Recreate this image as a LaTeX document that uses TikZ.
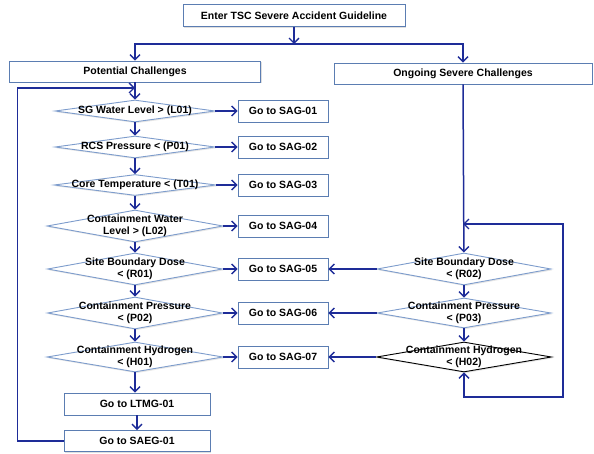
\documentclass[tikz,border=0pt]{standalone}
\usepackage{fontspec}
\setmainfont{Liberation Sans}
\usetikzlibrary{shapes.geometric,arrows.meta,shadows}
\definecolor{BoxLine}{HTML}{5B7DB2}
\definecolor{DiaLine}{HTML}{7D9CCC}
\definecolor{Flow}{HTML}{1E2C98}
\begin{document}
\begin{tikzpicture}[x=1pt,y=-1pt,every node/.style={align=center,font=\fontsize{10.5}{12}\selectfont\bfseries},
  box/.style={draw=BoxLine,line width=.9pt,fill=white,inner sep=0pt,minimum height=22pt,drop shadow={opacity=.25,shadow xshift=1.3pt,shadow yshift=-1.3pt}},
  dia/.style={diamond,draw=DiaLine,line width=.9pt,fill=white,inner sep=0pt,drop shadow={opacity=.2,shadow xshift=1.3pt,shadow yshift=-1.3pt}},
  lbl/.style={inner sep=0pt},
  tip/.style={Straight Barb[length=5pt,width=10pt,line width=1.4pt]},
  arr/.style={-{Straight Barb[length=5pt,width=10pt,line width=1.4pt]},line width=1.5pt,Flow}]
\useasboundingbox (0,0) rectangle (594,454);
% top of the guideline
\node[box,minimum width=222pt] (enter) at (294,15.5) {Enter TSC Severe Accident Guideline};
\node[box,minimum width=251pt,minimum height=21pt] (pot) at (135,71.5) {Potential Challenges};
\node[box,minimum width=258pt,minimum height=21pt] (ong) at (463,73.5) {Ongoing Severe Challenges};
\coordinate (split) at (294,44);
% left column
\node[dia,minimum width=160pt,minimum height=22pt] (d1) at (135,111) {};
\node[lbl] (t1) at (d1) {SG Water Level > (L01)};
\node[dia,minimum width=160pt,minimum height=22pt] (d2) at (135,147) {};
\node[lbl] (t2) at (d2) {RCS Pressure < (P01)};
\node[dia,minimum width=162pt,minimum height=21pt] (d3) at (135,185) {};
\node[lbl] (t3) at (d3) {Core Temperature < (T01)};
\node[dia,minimum width=176pt,minimum height=32pt] (d4) at (135,226) {};
\node[lbl] (t4) at (d4) {Containment Water\\Level > (L02)};
\node[dia,minimum width=175pt,minimum height=32pt] (d5) at (135,269) {};
\node[lbl] (t5) at (d5) {Site Boundary Dose\\< (R01)};
\node[dia,minimum width=175pt,minimum height=32pt] (d6) at (135,313) {};
\node[lbl] (t6) at (d6) {Containment Pressure\\< (P02)};
\node[dia,minimum width=176pt,minimum height=30pt] (d7) at (135,357) {};
\node[lbl] (t7) at (d7) {Containment Hydrogen\\< (H01)};
\node[box,minimum width=146pt] (ltmg) at (137,404) {Go to LTMG-01};
\node[box,minimum width=146pt,minimum height=21pt] (saeg) at (137,441) {Go to SAEG-01};
% SAG boxes
\node[box,minimum width=90pt] (s1) at (283,111) {Go to SAG-01};
\node[box,minimum width=90pt] (s2) at (283,147) {Go to SAG-02};
\node[box,minimum width=90pt] (s3) at (283,185) {Go to SAG-03};
\node[box,minimum width=90pt] (s4) at (283,226) {Go to SAG-04};
\node[box,minimum width=90pt] (s5) at (283,269) {Go to SAG-05};
\node[box,minimum width=90pt] (s6) at (283,313) {Go to SAG-06};
\node[box,minimum width=90pt] (s7) at (283,357) {Go to SAG-07};
% right column
\node[dia,minimum width=174pt,minimum height=32pt] (r1) at (464,269) {};
\node[lbl] (u1) at (r1) {Site Boundary Dose\\< (R02)};
\node[dia,minimum width=174pt,minimum height=30pt] (r2) at (464,313) {};
\node[lbl] (u2) at (r2) {Containment Pressure\\< (P03)};
\node[dia,draw=black,minimum width=175pt,minimum height=30pt] (r3) at (464,357) {};
\node[lbl] (u3) at (r3) {Containment Hydrogen\\< (H02)};
\coordinate (lin) at (135,88);
\coordinate (rin) at (463,224);
\coordinate (rloop) at (563,397);
% connectors
\draw[arr] (enter) -- (split);
\draw[arr] (split) -| (pot);
\draw[arr] (split) -| (ong);
\draw[arr] (pot) -- (d1);
\draw[arr] (d1) -- (d2);
\draw[arr] (d2) -- (d3);
\draw[arr] (d3) -- (d4);
\draw[arr] (d4) -- (d5);
\draw[arr] (d5) -- (d6);
\draw[arr] (d6) -- (d7);
\draw[arr] (d7) -- (d7 |- ltmg.north);
\draw[arr] (ltmg) -- (saeg);
\draw[arr] (saeg.west) -- ++(-46,0) |- (lin);
\foreach \i in {1,...,7} {\draw[arr] (d\i) -- (s\i);}
\draw[arr] (ong.south -| rin) -- (r1);
\draw[arr] (r1) -- (s5);
\draw[arr] (r2) -- (s6);
\draw[arr] (r3) -- (s7);
\draw[arr] (r1) -- (r2);
\draw[arr] (r2) -- (r3);
\draw[arr,{Straight Barb[length=5pt,width=10pt,line width=1.4pt]}-{Straight Barb[length=5pt,width=10pt,line width=1.4pt]}] (r3.south) |- (rloop) |- (rin);
\end{tikzpicture}
\end{document}
